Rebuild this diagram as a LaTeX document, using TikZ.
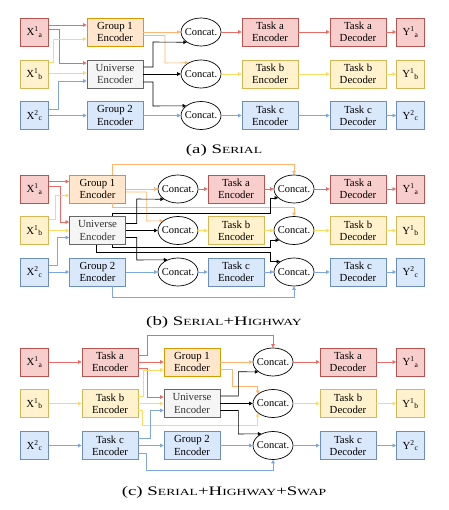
\documentclass[tikz,border=0pt]{standalone}
\usepackage{fontspec}
\setmainfont{Liberation Serif}
\usetikzlibrary{shapes.geometric,arrows.meta}
\definecolor{rfill}{HTML}{F8CECC}\definecolor{rdraw}{HTML}{B85450}
\definecolor{yfill}{HTML}{FFF2CC}\definecolor{ydraw}{HTML}{D6B656}
\definecolor{ofill}{HTML}{FFE6CC}\definecolor{odraw}{HTML}{D79B00}
\definecolor{bfill}{HTML}{DAE8FC}\definecolor{bdraw}{HTML}{6C8EBF}
\definecolor{gfill}{HTML}{F5F5F5}\definecolor{gdraw}{HTML}{666666}
\definecolor{rline}{HTML}{EA6B66}\definecolor{yline}{HTML}{FFD966}
\definecolor{oline}{HTML}{FFB570}\definecolor{bline}{HTML}{7EA6E0}
\definecolor{gtext}{HTML}{333333}
\newcommand\smc[1]{{\fontsize{9.4}{10}\selectfont #1}}
\newcommand\xs[2]{#1\textsuperscript{1}\textsubscript{#2}}
\tikzset{
  base/.style={draw, line width=0.7pt, inner sep=0pt, align=center, font=\fontsize{10.8}{12.3}\selectfont},
  enc/.style={base, minimum width=56pt, minimum height=28pt},
  io/.style={base, minimum width=28pt, minimum height=28pt},
  cat/.style={base, ellipse, minimum width=40pt, minimum height=28pt, fill=white, font=\fontsize{10.5}{12}\selectfont},
  R/.style={fill=rfill, draw=rdraw},
  Y/.style={fill=yfill, draw=ydraw},
  O/.style={fill=ofill, draw=odraw},
  B/.style={fill=bfill, draw=bdraw},
  G/.style={fill=gfill, draw=gdraw, text=gtext},
  ar/.style={line width=0.6pt, -{Triangle[length=3.5pt,width=3.5pt]}},
  rl/.style={ar, draw=rline},
  yl/.style={ar, draw=yline},
  ol/.style={ar, draw=oline},
  bl/.style={ar, draw=bline},
  kl/.style={ar, draw=black},
  captext/.style={font=\fontsize{13}{15}\selectfont, inner sep=0pt, xscale=1.45},
}
\begin{document}
\begin{tikzpicture}[x=1pt,y=-1pt]
\useasboundingbox (0,0) rectangle (448,510);
\fill[white] (0,0) rectangle (448,510);
% ---------------- panel (a)
\node[io,R] (xa1) at (34.5,32) {\xs{X}{a}};
\node[io,Y] (xb1) at (34.5,74) {\xs{X}{b}};
\node[io,B] (xc1) at (34.5,115.5) {X\textsuperscript{2}\textsubscript{c}};
\node[enc,O] (g11) at (115,32) {Group 1\\Encoder};
\node[enc,G] (u1) at (115,74) {Universe\\Encoder};
\node[enc,B] (g21) at (115,115.5) {Group 2\\Encoder};
\node[cat] (ca1) at (201,32) {\makebox[0pt]{Concat.}};
\node[cat] (cb1) at (201,74) {\makebox[0pt]{Concat.}};
\node[cat] (cc1) at (201,115.5) {\makebox[0pt]{Concat.}};
\node[enc,R] (ta1) at (270,32) {Task a\\Encoder};
\node[enc,Y] (tb1) at (270,74) {Task b\\Encoder};
\node[enc,B] (tc1) at (270,115.5) {Task c\\Encoder};
\node[enc,R] (da1) at (358,32) {Task a\\Decoder};
\node[enc,Y] (db1) at (358,74) {Task b\\Decoder};
\node[enc,B] (dc1) at (358,115.5) {Task c\\Decoder};
\node[io,R] (ya1) at (410.5,32) {\xs{Y}{a}};
\node[io,Y] (yb1) at (410.5,74) {\xs{Y}{b}};
\node[io,B] (yc1) at (410.5,115.5) {Y\textsuperscript{2}\textsubscript{c}};
\draw[rl] (xa1.east|-0,25) -- (g11.west|-0,25);
\draw[rl] (xa1.east|-0,29) -| (59,63) -- (u1.west|-0,63);
\draw[yl] (xb1.east|-0,62) -| (53,39) -- (g11.west|-0,39);
\draw[yl] (xb1.east|-0,73) -- (u1.west|-0,73);
\draw[bl] (xc1.east|-0,109) -| (58,81) -- (u1.west|-0,81);
\draw[bl] (xc1.east) -- (g21.west);
\draw[ol] (g11.east) -- (ca1.west);
\draw[ol] (g11.east|-0,35.5) -| (165,63) -- (cb1.138);
\draw[kl] (u1.east|-0,67) -| (153,42) -- (ca1.216);
\draw[kl] (u1.east) -- (cb1.west);
\draw[kl] (u1.east|-0,82) -| (153,106) -- (cc1.147);
\draw[bl] (g21.east) -- (cc1.west);
\draw[rl] (ca1.east) -- (ta1.west);
\draw[yl] (cb1.east) -- (tb1.west);
\draw[bl] (cc1.east) -- (tc1.west);
\draw[rl] (ta1.east) -- (da1.west);
\draw[yl] (tb1.east) -- (db1.west);
\draw[bl] (tc1.east) -- (dc1.west);
\draw[rl] (da1.east) -- (ya1.west);
\draw[yl] (db1.east) -- (yb1.west);
\draw[bl] (dc1.east) -- (yc1.west);
\node[captext] (capa) at (224,150) {(a) S\smc{ERIAL}};
% ---------------- panel (b)
\node[io,R] (xa2) at (34.5,189) {\xs{X}{a}};
\node[io,Y] (xb2) at (34.5,230.5) {\xs{X}{b}};
\node[io,B] (xc2) at (34.5,272) {X\textsuperscript{2}\textsubscript{c}};
\node[enc,O] (g12) at (97.5,189) {Group 1\\Encoder};
\node[enc,G] (u2) at (97.5,230.5) {Universe\\Encoder};
\node[enc,B] (g22) at (97.5,272) {Group 2\\Encoder};
\node[cat] (c1a) at (178,189) {\makebox[0pt]{Concat.}};
\node[cat] (c1b) at (178,230.5) {\makebox[0pt]{Concat.}};
\node[cat] (c1c) at (178,272) {\makebox[0pt]{Concat.}};
\node[enc,R] (ta2) at (236,189) {Task a\\Encoder};
\node[enc,Y] (tb2) at (236,230.5) {Task b\\Encoder};
\node[enc,B] (tc2) at (236,272) {Task c\\Encoder};
\node[cat] (c2a) at (294,189) {\makebox[0pt]{Concat.}};
\node[cat] (c2b) at (294,230.5) {\makebox[0pt]{Concat.}};
\node[cat] (c2c) at (294,272) {\makebox[0pt]{Concat.}};
\node[enc,R] (da2) at (358,189) {Task a\\Decoder};
\node[enc,Y] (db2) at (358,230.5) {Task b\\Decoder};
\node[enc,B] (dc2) at (358,272) {Task c\\Decoder};
\node[io,R] (ya2) at (410.5,189) {\xs{Y}{a}};
\node[io,Y] (yb2) at (410.5,230.5) {\xs{Y}{b}};
\node[io,B] (yc2) at (410.5,272) {Y\textsuperscript{2}\textsubscript{c}};
\draw[rl] (xa2.east|-0,181.5) -- (g12.west|-0,181.5);
\draw[rl] (xa2.east|-0,186) -| (60,222) -- (u2.west|-0,222);
\draw[yl] (xb2.east|-0,219.5) -| (55,195.5) -- (g12.west|-0,195.5);
\draw[yl] (xb2.east) -- (u2.west);
\draw[bl] (xc2.east|-0,265) -| (57,237.5) -- (u2.west|-0,237.5);
\draw[bl] (xc2.east) -- (g22.west);
\draw[ol] (g12.north-|112,0) |- (294,164) -- (c2a.north);
\draw[ol] (g12.east) -- (c1a.west);
\draw[ol] (g12.east|-0,192) -| (146.7,221) -- (c1b.147);
\draw[ol] (g12.south-|112,0) |- (294,207.7) -- (c2b.north);
\draw[kl] (u2.east|-0,223.5) -| (136.7,199) -- (c1a.216);
\draw[kl] (u2.east) -- (c1b.west);
\draw[kl] (u2.east|-0,237.5) -| (136.7,260) -- (c1c.131);
\draw[kl] (u2.north-|112,0) |- (270,213.3) |- (c2a.209);
\draw[kl] (u2.south-|112,0) |- (270,247.5) |- (c2b.213);
\draw[kl] (u2.south-|96.7,0) |- (270,252.7) |- (c2c.143);
\draw[bl] (g22.east) -- (c1c.west);
\draw[bl] (g22.south-|112,0) |- (294,297) -- (c2c.south);
\draw[rl] (c1a.east) -- (ta2.west);
\draw[yl] (c1b.east) -- (tb2.west);
\draw[bl] (c1c.east) -- (tc2.west);
\draw[rl] (ta2.east) -- (c2a.west);
\draw[yl] (tb2.east) -- (c2b.west);
\draw[bl] (tc2.east) -- (c2c.west);
\draw[rl] (c2a.east) -- (da2.west);
\draw[yl] (c2b.east) -- (db2.west);
\draw[bl] (c2c.east) -- (dc2.west);
\draw[rl] (da2.east) -- (ya2.west);
\draw[yl] (db2.east) -- (yb2.west);
\draw[bl] (dc2.east) -- (yc2.west);
\node[captext] (capb) at (224,322) {(b) S\smc{ERIAL}+H\smc{IGHWAY}};
% ---------------- panel (c)
\node[io,R] (xa3) at (34.5,362) {\xs{X}{a}};
\node[io,Y] (xb3) at (34.5,403.5) {\xs{X}{b}};
\node[io,B] (xc3) at (34.5,445.5) {X\textsuperscript{2}\textsubscript{c}};
\node[enc,R] (ta3) at (110,362) {Task a\\Encoder};
\node[enc,Y] (tb3) at (110,403.5) {Task b\\Encoder};
\node[enc,B] (tc3) at (110,445.5) {Task c\\Encoder};
\node[enc,O] (g13) at (192,362) {Group 1\\Encoder};
\node[enc,G] (u3) at (192,403.5) {Universe\\Encoder};
\node[enc,B] (g23) at (192,445.5) {Group 2\\Encoder};
\node[cat] (ca3) at (273,362) {\makebox[0pt]{Concat.}};
\node[cat] (cb3) at (273,403.5) {\makebox[0pt]{Concat.}};
\node[cat] (cc3) at (273,445.5) {\makebox[0pt]{Concat.}};
\node[enc,R] (da3) at (348,362) {Task a\\Decoder};
\node[enc,Y] (db3) at (348,403.5) {Task b\\Decoder};
\node[enc,B] (dc3) at (348,445.5) {Task c\\Decoder};
\node[io,R] (ya3) at (410.5,362) {\xs{Y}{a}};
\node[io,Y] (yb3) at (410.5,403.5) {\xs{Y}{b}};
\node[io,B] (yc3) at (410.5,445.5) {Y\textsuperscript{2}\textsubscript{c}};
\draw[rl] (xa3.east) -- (ta3.west);
\draw[yl] (xb3.east) -- (tb3.west);
\draw[bl] (xc3.east) -- (tc3.west);
\draw[rl] (ta3.east|-0,355) -| (147,335) -| (ca3.north);
\draw[rl] (ta3.east) -- (g13.west);
\draw[rl] (ta3.east|-0,368.5) -| (147.5,397) -- (u3.west|-0,397);
\draw[yl] (tb3.east|-0,396.5) -| (143,370) -- (g13.west|-0,370);
\draw[yl] (tb3.east) -- (u3.west);
\draw[yl] (tb3.east|-0,410.5) -| (142,425) -| (cb3.212);
\draw[bl] (tc3.east|-0,438.5) -| (150,410.5) -- (u3.west|-0,410.5);
\draw[bl] (tc3.east) -- (g23.west);
\draw[bl] (tc3.east|-0,453) -| (146.7,470) -| (cc3.south);
\draw[ol] (g13.east) -- (ca3.west);
\draw[ol] (g13.east|-0,369) -| (232,386) -| (cb3.148);
\draw[kl] (u3.east|-0,396) -| (238.3,371.7) -- (ca3.214);
\draw[kl] (u3.east) -- (cb3.west);
\draw[kl] (u3.east|-0,410.5) -| (238.3,434) -- (cc3.135);
\draw[bl] (g23.east) -- (cc3.west);
\draw[rl] (ca3.east) -- (da3.west);
\draw[yl] (cb3.east) -- (db3.west);
\draw[bl] (cc3.east) -- (dc3.west);
\draw[rl] (da3.east) -- (ya3.west);
\draw[yl] (db3.east) -- (yb3.west);
\draw[bl] (dc3.east) -- (yc3.west);
\node[captext] (capc) at (224,492) {(c) S\smc{ERIAL}+H\smc{IGHWAY}+S\smc{WAP}};
\end{tikzpicture}
\end{document}
